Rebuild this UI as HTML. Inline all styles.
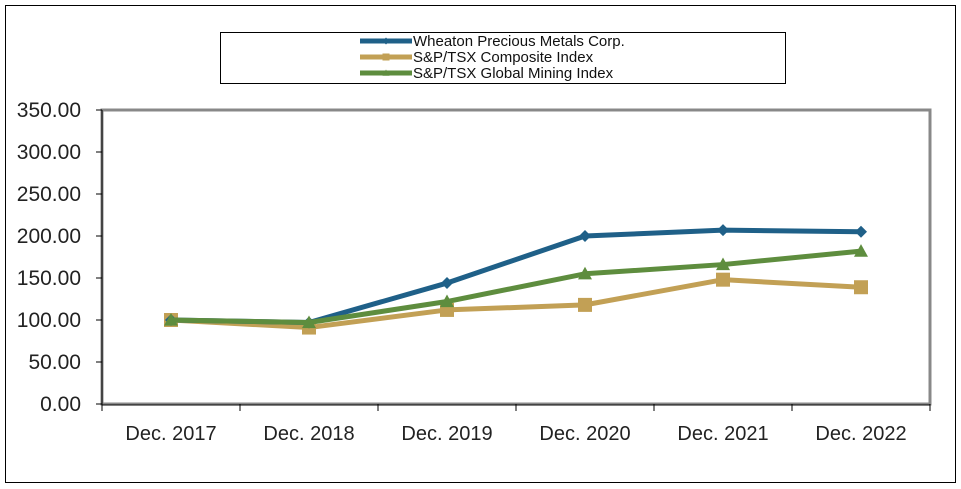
<!DOCTYPE html>
<html><head><meta charset="utf-8"><style>
body{margin:0;background:#fff;}
svg{display:block;font-family:"Liberation Sans",Arial,sans-serif;}
</style></head><body>
<svg id="chart" width="961" height="489">
<rect x="5.5" y="5.5" width="950" height="477" fill="#fff" stroke="#000" stroke-width="1"/>
<g id="legend">
<rect x="220.5" y="32.5" width="565" height="51" fill="#fff" stroke="#000"/>
</g>
<g id="plot"></g>
</svg>
<script>
const categories=["Dec. 2017","Dec. 2018","Dec. 2019","Dec. 2020","Dec. 2021","Dec. 2022"];
const wheaton=[100,97,144,200,207,205];
const composite=[100,91,112,118,148,139];
const mining=[100,97,122,155,166,182];
const yTicks=[0,50,100,150,200,250,300,350];
const seriesNames=["Wheaton Precious Metals Corp.","S&P/TSX Composite Index","S&P/TSX Global Mining Index"];

const NS="http://www.w3.org/2000/svg";
const L=102,R=930,T=110,B=404,YMAX=350;
const cw=(R-L)/categories.length;
const xs=i=>L+cw*(i+0.5);
const ys=v=>B-(v/YMAX)*(B-T);
const plot=document.getElementById('plot');
const legend=document.getElementById('legend');
function mk(tag,attrs,parent){const e=document.createElementNS(NS,tag);for(const k in attrs)e.setAttribute(k,attrs[k]);parent.appendChild(e);return e;}

const fr=mk('rect',{x:L,y:T,width:R-L,height:B-T,fill:'none',stroke:'#888','stroke-width':3},plot);


const ya=mk('line',{x1:L,y1:T,x2:L,y2:B,stroke:'#000','stroke-width':1},plot);


const xa=mk('line',{x1:L,y1:B+1,x2:R,y2:B+1,stroke:'#000','stroke-width':1},plot);



yTicks.forEach(v=>{
  const y=ys(v);
  const t=mk('line',{x1:L-6,y1:y,x2:L,y2:y,stroke:'#000'},plot);
  
  
  const tx=mk('text',{x:L-21,y:y+7,'text-anchor':'end','font-size':21,fill:'#222'},plot);
  tx.textContent=v.toFixed(2);
  
  
});
for(let i=0;i<=categories.length;i++){
  const x=L+cw*i;
  const t=mk('line',{x1:x,y1:B,x2:x,y2:B+7,stroke:'#000'},plot);
  
  
}
categories.forEach((c,i)=>{
  const tx=mk('text',{x:xs(i),y:440,'text-anchor':'middle','font-size':20,fill:'#222'},plot);
  tx.textContent=c;
  
  
});

function marker(type,x,y,color,parent,s){
  let e;
  if(type==='diamond') e=mk('polygon',{points:`${x},${y-s} ${x+s},${y} ${x},${y+s} ${x-s},${y}`,fill:color},parent);
  else if(type==='square') e=mk('rect',{x:x-s,y:y-s,width:2*s,height:2*s,fill:color},parent);
  else e=mk('polygon',{points:`${x},${y-s} ${x+s},${y+s*0.8} ${x-s},${y+s*0.8}`,fill:color},parent);
  return e;
}
const series=[
 {vals:composite,color:'#c2a055',m:'square',s:7},
 {vals:wheaton,color:'#1f6088',m:'diamond',s:6},
 {vals:mining,color:'#5e8d3e',m:'triangle',s:7},
];
series.forEach((sr,k)=>{
  const pts=sr.vals.map((v,i)=>xs(i)+','+ys(v)).join(' ');
  const pl=mk('polyline',{points:pts,fill:'none',stroke:sr.color,'stroke-width':5,'stroke-linejoin':'round'},plot);
  
  
  sr.vals.forEach((v,i)=>{
    const m=marker(sr.m,xs(i),ys(v),sr.color,plot,sr.s);
    
    
  });
});
const legColors=['#1f6088','#c2a055','#5e8d3e'];
const legMarks=['diamond','square','triangle'];
seriesNames.forEach((n,i)=>{
  const y=41+i*16;
  const ln=mk('line',{x1:360,y1:y,x2:412,y2:y,stroke:legColors[i],'stroke-width':5},legend);
  
  
  const m=marker(legMarks[i],386,y,legColors[i],legend,3.5);
  
  
  const tx=mk('text',{x:413,y:y+5,'font-size':15,fill:'#111'},legend);
  tx.textContent=n;
  
  
});
</script>
</body></html>
